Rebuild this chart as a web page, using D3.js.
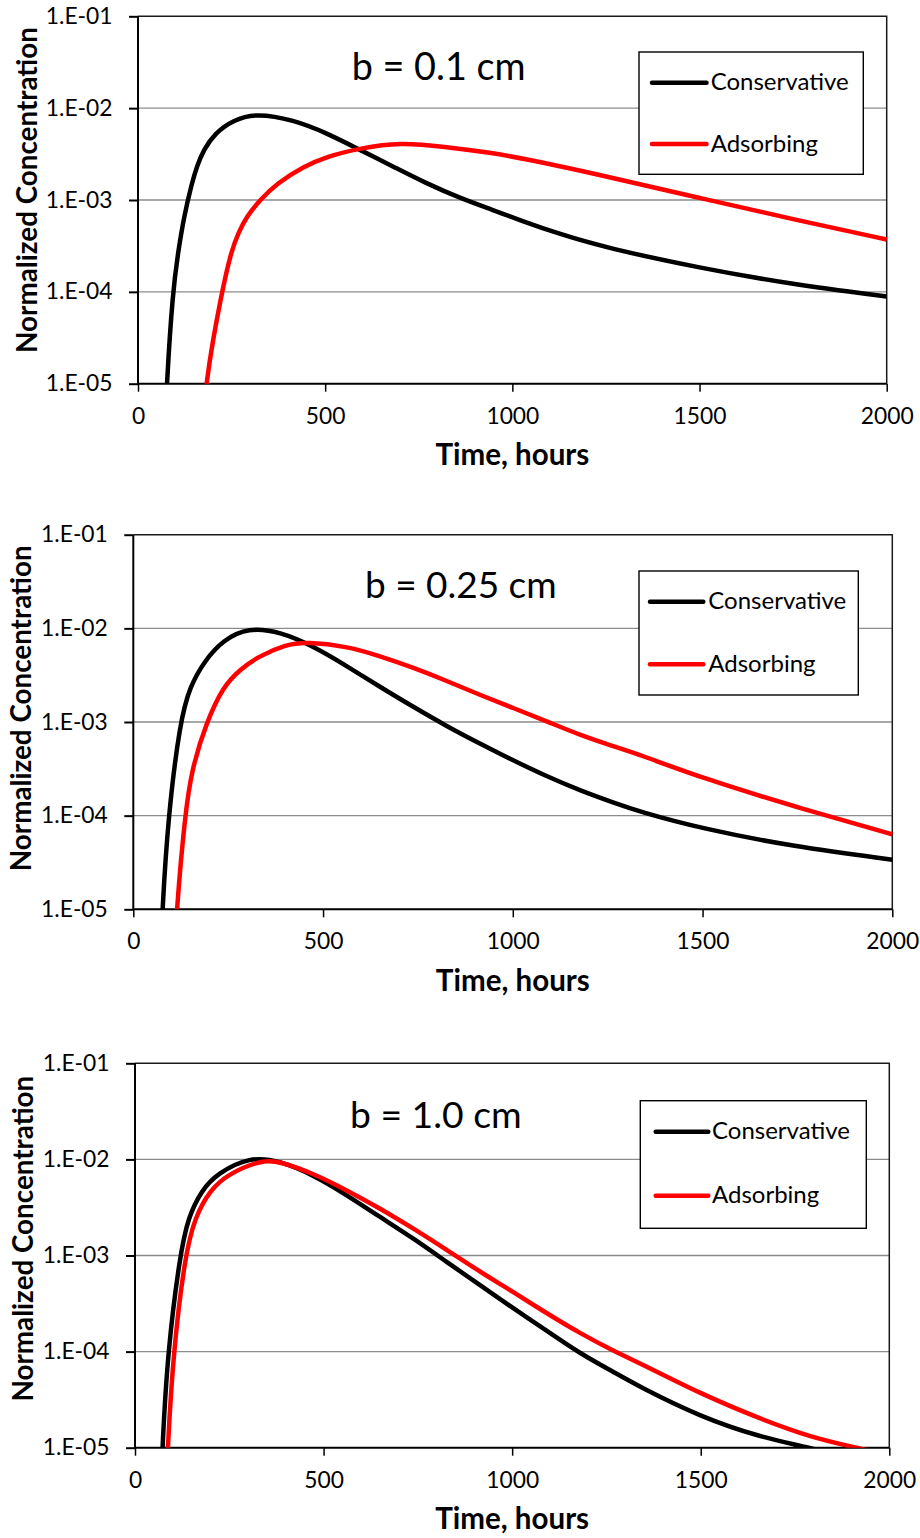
<!DOCTYPE html>
<html><head><meta charset="utf-8">
<script src="https://cdn.jsdelivr.net/npm/d3@7"></script>
<style>
body{margin:0;background:#fff}
svg{display:block}
text{font-family:Lato,'Open Sans','Liberation Sans',sans-serif;fill:#000}
</style>
</head><body>
<svg id="chart" width="920" height="1538"></svg>
<script>
// ---------------- data ----------------
const xTicks = [0, 500, 1000, 1500, 2000];
const yTicks = [1e-1, 1e-2, 1e-3, 1e-4, 1e-5];
const yTickLabels = ["1.E-01", "1.E-02", "1.E-03", "1.E-04", "1.E-05"];
const seriesNames = ["Conservative", "Adsorbing"];
const seriesColors = ["#000000", "#ff0000"];
const panelTitles = ["b = 0.1 cm", "b = 0.25 cm", "b = 1.0 cm"];
const xTitle = "Time, hours";
const yTitle = "Normalized Concentration";

// [time (hours), normalized concentration]
const consB01 = [[70,2e-6],[76.7,1e-5],[92.6,1e-4],[108,2.85e-4],[123,6.61e-4],[143.5,1.51e-3],[157,2.31e-3],[175,3.51e-3],[206,5.37e-3],[255,7.46e-3],[317,8.81e-3],[415,7.46e-3],[504,5.37e-3],[593,3.51e-3],[682,2.31e-3],[771,1.51e-3],[860,1.05e-3],[949,7.76e-4],[1020,6.03e-4],[1125,4.27e-4],[1250,3.02e-4],[1500,1.82e-4],[1750,1.20e-4],[2000,8.91e-5]];
const adsB01  = [[170,2e-6],[179,1e-5],[223.6,1e-4],[250,2.85e-4],[268,4.37e-4],[290,6.61e-4],[326,1e-3],[370,1.51e-3],[442,2.31e-3],[504,2.97e-3],[593,3.66e-3],[700,4.26e-3],[816,3.82e-3],[949,3.24e-3],[1020,2.88e-3],[1250,1.82e-3],[1500,1.05e-3],[1750,6.17e-4],[2000,3.72e-4]];

const consB025 = [[70,2e-6],[76.5,1e-5],[92,1e-4],[123,1e-3],[149,2.40e-3],[189,4.57e-3],[237,7.50e-3],[303,1.02e-2],[387,9.20e-3],[474,6.46e-3],[562,3.98e-3],[650,2.37e-3],[738,1.45e-3],[826,9.0e-4],[913,5.89e-4],[1001,3.89e-4],[1089,2.63e-4],[1177,1.86e-4],[1265,1.38e-4],[1335,1.10e-4],[1500,7.24e-5],[1739,4.68e-5],[2000,3.39e-5]];
const adsB025  = [[106,2e-6],[114,1e-5],[136,1e-4],[154,3.16e-4],[193,1e-3],[237,2.40e-3],[281,3.63e-3],[329,5.01e-3],[404,6.76e-3],[457,7.14e-3],[562,6.46e-3],[650,5.06e-3],[738,3.80e-3],[826,2.75e-3],[913,1.95e-3],[1001,1.41e-3],[1089,1.02e-3],[1177,7.24e-4],[1265,5.50e-4],[1335,4.47e-4],[1500,2.51e-4],[1739,1.26e-4],[2000,6.31e-5]];

const consB10 = [[66,2e-6],[72.4,1e-5],[86.6,1e-4],[119,1e-3],[141,2.51e-3],[177,4.79e-3],[217,7.08e-3],[305,1.07e-2],[384,9.68e-3],[473,6.87e-3],[561,4.27e-3],[650,2.51e-3],[738,1.51e-3],[826,8.59e-4],[915,4.90e-4],[1003,2.82e-4],[1091,1.66e-4],[1180,9.55e-5],[1268,6.17e-5],[1339,4.27e-5],[1500,2.09e-5],[1657,1.29e-5],[1790,1e-5],[1850,8.5e-6]];
const adsB10  = [[80,2e-6],[86.6,1e-5],[101.6,1e-4],[132.6,1e-3],[159,2.51e-3],[199,4.79e-3],[247,7.08e-3],[340,1.0e-2],[384,9.46e-3],[473,7.14e-3],[561,4.79e-3],[650,3.09e-3],[738,1.91e-3],[826,1.15e-3],[915,6.76e-4],[1003,4.17e-4],[1091,2.51e-4],[1180,1.55e-4],[1268,1.02e-4],[1339,7.59e-5],[1500,3.63e-5],[1657,2.0e-5],[1790,1.29e-5],[1913,1e-5],[1980,8.7e-6]];

const panelSeries = [[consB01, adsB01], [consB025, adsB025], [consB10, adsB10]];

// ---------------- layout ----------------
const layouts = [
  {left:138, right:886.7, top:16.3, bottom:383.7,
   leg:{x0:639, x1:863.3, y0:52, y1:174.3, ly:[82.7,144], lx0:652, lx1:706.5, tx:710.7},
   title:{x:351.7, y:80, w:174}, ytx:37, yty:190},
  {left:133.3, right:892.3, top:534.7, bottom:909.3,
   leg:{x0:639, x1:858.3, y0:571, y1:695, ly:[601.7,664.3], lx0:650, lx1:703.3, tx:708.3},
   title:{x:365, y:598.3, w:191.7}, ytx:30.7, yty:708.3},
  {left:135, right:889.3, top:1063.3, bottom:1447.7,
   leg:{x0:640.3, x1:866.3, y0:1100.7, y1:1228.3, ly:[1131.7,1195.7], lx0:655.7, lx1:708.3, tx:712},
   title:{x:350, y:1128.3, w:171.7}, ytx:33.3, yty:1238.7}
];

const svg = d3.select("#chart");

function fitSize(sample, base, target, weight) {
  const t = svg.append("text").attr("font-size", base).attr("font-weight", weight || "normal").text(sample);
  const w = t.node().getComputedTextLength();
  t.remove();
  return base * target / w;
}
const tickFs = fitSize("1.E-01", 20, 66.7);
const legFs = fitSize("Conservative", 20, 138);
const xTitleFs = fitSize(xTitle, 22, 154, "bold");
const yTitleFs = fitSize(yTitle, 22, 326, "bold");

layouts.forEach((L, i) => {
  const g = svg.append("g");
  const x = d3.scaleLinear().domain([0, 2000]).range([L.left, L.right]);
  const y = d3.scaleLog().domain([1e-5, 1e-1]).range([L.bottom, L.top]);

  // gridlines
  g.append("g").selectAll("line").data(yTicks.slice(1, 4)).join("line")
    .attr("x1", L.left).attr("x2", L.right)
    .attr("y1", d => y(d)).attr("y2", d => y(d))
    .attr("stroke", "#8c8c8c").attr("stroke-width", 1.3);

  // plot border (top, right)
  g.append("path")
    .attr("d", `M${L.left},${L.top}H${L.right}V${L.bottom}`)
    .attr("fill", "none").attr("stroke", "#1a1a1a").attr("stroke-width", 1.5);

  // axes
  const yAxis = d3.axisLeft(y).tickValues(yTicks).tickSize(9)
    .tickFormat(d => yTickLabels[yTicks.indexOf(d)]);
  const ya = g.append("g").attr("transform", `translate(${L.left},0)`).call(yAxis);
  ya.attr("font-family", null);
  ya.select(".domain").attr("stroke", "#000").attr("stroke-width", 2).attr("d", `M0,${L.top}V${L.bottom}`);
  ya.selectAll(".tick line").attr("stroke", "#000").attr("stroke-width", 2);
  ya.selectAll(".tick text").attr("font-size", tickFs)
    .attr("x", -25.5).attr("dy", null).attr("y", 7).attr("fill", "#000");

  const xAxis = d3.axisBottom(x).tickValues(xTicks).tickSize(8).tickFormat(d3.format("d"));
  const xa = g.append("g").attr("transform", `translate(0,${L.bottom})`).call(xAxis);
  xa.attr("font-family", null);
  xa.select(".domain").attr("stroke", "#000").attr("stroke-width", 2).attr("d", `M${L.left},0H${L.right}`);
  xa.selectAll(".tick line").attr("stroke", "#000").attr("stroke-width", 1.5);
  xa.selectAll(".tick text").attr("font-size", tickFs)
    .attr("y", 40).attr("dy", null).attr("fill", "#000");

  // clip
  const cid = "clip" + i;
  svg.append("clipPath").attr("id", cid).append("rect")
    .attr("x", L.left).attr("y", L.top - 5)
    .attr("width", L.right - L.left + 2).attr("height", L.bottom - L.top + 5);

  const line = d3.line().x(d => x(d[0])).y(d => y(d[1])).curve(d3.curveBasis);
  g.append("g").attr("clip-path", `url(#${cid})`)
    .selectAll("path").data(panelSeries[i]).join("path")
    .attr("d", line).attr("fill", "none")
    .attr("stroke", (d, k) => seriesColors[k]).attr("stroke-width", 4.5)
    .attr("stroke-linejoin", "round");

  // title
  const tFs = fitSize(panelTitles[i], 32, L.title.w);
  g.append("text").attr("x", L.title.x).attr("y", L.title.y)
    .attr("font-size", tFs).text(panelTitles[i]);

  // legend
  const lg = g.append("g");
  lg.append("rect").attr("x", L.leg.x0).attr("y", L.leg.y0)
    .attr("width", L.leg.x1 - L.leg.x0).attr("height", L.leg.y1 - L.leg.y0)
    .attr("fill", "#fff").attr("stroke", "#000").attr("stroke-width", 1.4);
  seriesNames.forEach((n, k) => {
    lg.append("line").attr("x1", L.leg.lx0).attr("x2", L.leg.lx1)
      .attr("y1", L.leg.ly[k]).attr("y2", L.leg.ly[k])
      .attr("stroke", seriesColors[k]).attr("stroke-width", 4.5).attr("stroke-linecap", "round");
    lg.append("text").attr("x", L.leg.tx).attr("y", L.leg.ly[k] + 7.5)
      .attr("font-size", legFs).text(n);
  });

  // axis titles
  g.append("text").attr("x", (L.left + L.right) / 2).attr("y", L.bottom + 81.5)
    .attr("text-anchor", "middle").attr("font-weight", "bold").attr("font-size", xTitleFs).text(xTitle);
  g.append("text").attr("transform", `translate(${L.ytx},${L.yty}) rotate(-90)`)
    .attr("text-anchor", "middle").attr("font-weight", "bold").attr("font-size", yTitleFs).text(yTitle);
});
</script>
</body></html>
